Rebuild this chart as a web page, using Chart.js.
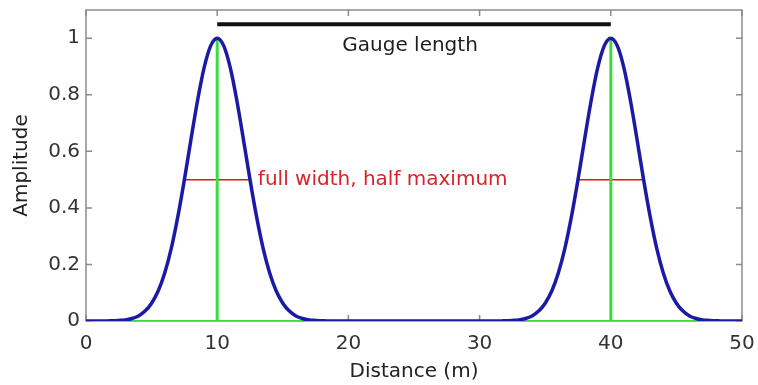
<!DOCTYPE html>
<html>
<head>
<meta charset="utf-8">
<title>Gauge length</title>
<script src="https://cdn.jsdelivr.net/npm/chart.js@4.4.1/dist/chart.umd.min.js"></script>
<style>
  html, body { margin: 0; padding: 0; background: #fff; }
</style>
</head>
<body>
<canvas id="pulseChart" width="758" height="385"></canvas>
<script>
// distance along the fibre (m)
const distance = [
  0, 0.5, 1, 1.5, 2, 2.5, 3, 3.5, 4, 4.5,
  5, 5.5, 6, 6.5, 7, 7.5, 8, 8.5, 9, 9.5,
  10, 10.5, 11, 11.5, 12, 12.5, 13, 13.5, 14, 14.5,
  15, 15.5, 16, 16.5, 17, 17.5, 18, 18.5, 19, 19.5,
  20, 20.5, 21, 21.5, 22, 22.5, 23, 23.5, 24, 24.5,
  25, 25.5, 26, 26.5, 27, 27.5, 28, 28.5, 29, 29.5,
  30, 30.5, 31, 31.5, 32, 32.5, 33, 33.5, 34, 34.5,
  35, 35.5, 36, 36.5, 37, 37.5, 38, 38.5, 39, 39.5,
  40, 40.5, 41, 41.5, 42, 42.5, 43, 43.5, 44, 44.5,
  45, 45.5, 46, 46.5, 47, 47.5, 48, 48.5, 49, 49.5,
  50
];
// pulse amplitude at each distance
const amplitude = [
  0, 0, 0, 0, 0.001, 0.002, 0.004, 0.009, 0.018, 0.035,
  0.063, 0.106, 0.170, 0.257, 0.369, 0.5, 0.642, 0.779, 0.895, 0.973,
  1, 0.973, 0.895, 0.779, 0.642, 0.5, 0.369, 0.257, 0.170, 0.106,
  0.063, 0.035, 0.018, 0.009, 0.004, 0.002, 0.001, 0, 0, 0,
  0, 0, 0, 0, 0, 0, 0, 0, 0, 0,
  0, 0, 0, 0, 0, 0, 0, 0, 0, 0,
  0, 0, 0, 0, 0.001, 0.002, 0.004, 0.009, 0.018, 0.035,
  0.063, 0.106, 0.170, 0.257, 0.369, 0.5, 0.642, 0.779, 0.895, 0.973,
  1, 0.973, 0.895, 0.779, 0.642, 0.5, 0.369, 0.257, 0.170, 0.106,
  0.063, 0.035, 0.018, 0.009, 0.004, 0.002, 0.001, 0, 0, 0,
  0
];

const peakCenters = [10, 40];
const peakHeight = 1;
const fwhmStart = [7.5, 37.5];
const fwhmEnd = [12.5, 42.5];
const halfMax = 0.5;
const gaugeStart = 10;
const gaugeEnd = 40;
const gaugeLevel = 1.05;

const xTicks = [0, 10, 20, 30, 40, 50];
const yTicks = [0, 0.2, 0.4, 0.6, 0.8, 1];

const FONT = '"DejaVu Sans", "Liberation Sans", Arial, sans-serif';
const GREEN = '#3ddc3d';

function segment(x0, y0, x1, y1) {
  return [{ x: x0, y: y0 }, { x: x1, y: y1 }];
}

const datasets = [];

// pulse shape
datasets.push({
  data: distance.map((d, i) => ({ x: d, y: amplitude[i] })),
  borderColor: '#1a1aa6',
  borderWidth: 3.5,
  cubicInterpolationMode: 'monotone',
  order: 0
});

// gauge length bar
datasets.push({
  data: segment(gaugeStart, gaugeLevel, gaugeEnd, gaugeLevel),
  borderColor: '#111',
  borderWidth: 4,
  order: 0
});

// peak markers
peakCenters.forEach(c => {
  datasets.push({
    data: segment(c, 0, c, peakHeight),
    borderColor: GREEN,
    borderWidth: 3,
    order: 1
  });
});

// FWHM markers
fwhmStart.forEach((s, i) => {
  datasets.push({
    data: segment(s, halfMax, fwhmEnd[i], halfMax),
    borderColor: '#d8161b',
    borderWidth: 1.5,
    order: 2
  });
});

// zero line
datasets.push({
  data: segment(xTicks[0], 0, xTicks[xTicks.length - 1], 0),
  borderColor: GREEN,
  borderWidth: 2,
  order: 3
});

// box, inward ticks and text notes
const axesBox = {
  id: 'axesBox',
  beforeDatasetsDraw(chart) {
    const { ctx, chartArea: a, scales: { x, y } } = chart;
    const len = 6;
    ctx.save();
    ctx.strokeStyle = '#8c8c8c';
    ctx.lineWidth = 1.5;
    ctx.strokeRect(a.left, a.top, a.right - a.left, a.bottom - a.top);
    ctx.beginPath();
    x.ticks.forEach(t => {
      const px = x.getPixelForValue(t.value);
      ctx.moveTo(px, a.bottom); ctx.lineTo(px, a.bottom - len);
      ctx.moveTo(px, a.top); ctx.lineTo(px, a.top + len);
    });
    y.ticks.forEach(t => {
      const py = y.getPixelForValue(t.value);
      ctx.moveTo(a.left, py); ctx.lineTo(a.left + len, py);
      ctx.moveTo(a.right, py); ctx.lineTo(a.right - len, py);
    });
    ctx.stroke();
    ctx.restore();
  },
  afterDatasetsDraw(chart) {
    const { ctx, scales: { x, y } } = chart;
    ctx.save();
    ctx.font = '20px ' + FONT;
    ctx.textBaseline = 'middle';
    ctx.fillStyle = '#1e1e1e';
    ctx.textAlign = 'center';
    ctx.fillText('Gauge length', x.getPixelForValue(24.7), y.getPixelForValue(0.972));
    ctx.fillStyle = '#d8232a';
    ctx.textAlign = 'left';
    ctx.fillText('full width, half maximum', x.getPixelForValue(13.1), y.getPixelForValue(halfMax));
    ctx.restore();
  }
};

new Chart(document.getElementById('pulseChart'), {
  type: 'line',
  data: { datasets },
  options: {
    responsive: false,
    animation: false,
    events: [],
    layout: { padding: { top: 10, right: 16, left: 0, bottom: 0 } },
    elements: {
      point: { radius: 0 },
      line: { fill: false, borderCapStyle: 'butt' }
    },
    plugins: {
      legend: { display: false },
      tooltip: { enabled: false }
    },
    scales: {
      x: {
        type: 'linear',
        min: 0,
        max: 50,
        afterBuildTicks: s => { s.ticks = xTicks.map(v => ({ value: v })); },
        afterFit: s => { s.height = 64; s.paddingLeft = 0; s.paddingRight = 0; },
        grid: { display: false, drawTicks: false },
        border: { display: false },
        ticks: { padding: 11, color: '#333', font: { family: FONT, size: 20 } },
        title: {
          display: true,
          text: 'Distance (m)',
          color: '#222',
          padding: { top: 0, bottom: 1 },
          font: { family: FONT, size: 20 }
        }
      },
      y: {
        type: 'linear',
        min: 0,
        max: 1.1,
        afterBuildTicks: s => { s.ticks = yTicks.map(v => ({ value: v })); },
        afterFit: s => { s.width = 86; s.paddingTop = 0; s.paddingBottom = 0; },
        grid: { display: false, drawTicks: false },
        border: { display: false },
        ticks: {
          padding: 6,
          color: '#333',
          font: { family: FONT, size: 20 },
          callback: v => String(v)
        },
        title: {
          display: true,
          text: 'Amplitude',
          color: '#222',
          padding: { top: 10, bottom: 0 },
          font: { family: FONT, size: 20 }
        }
      }
    }
  },
  plugins: [axesBox]
});
</script>
</body>
</html>
